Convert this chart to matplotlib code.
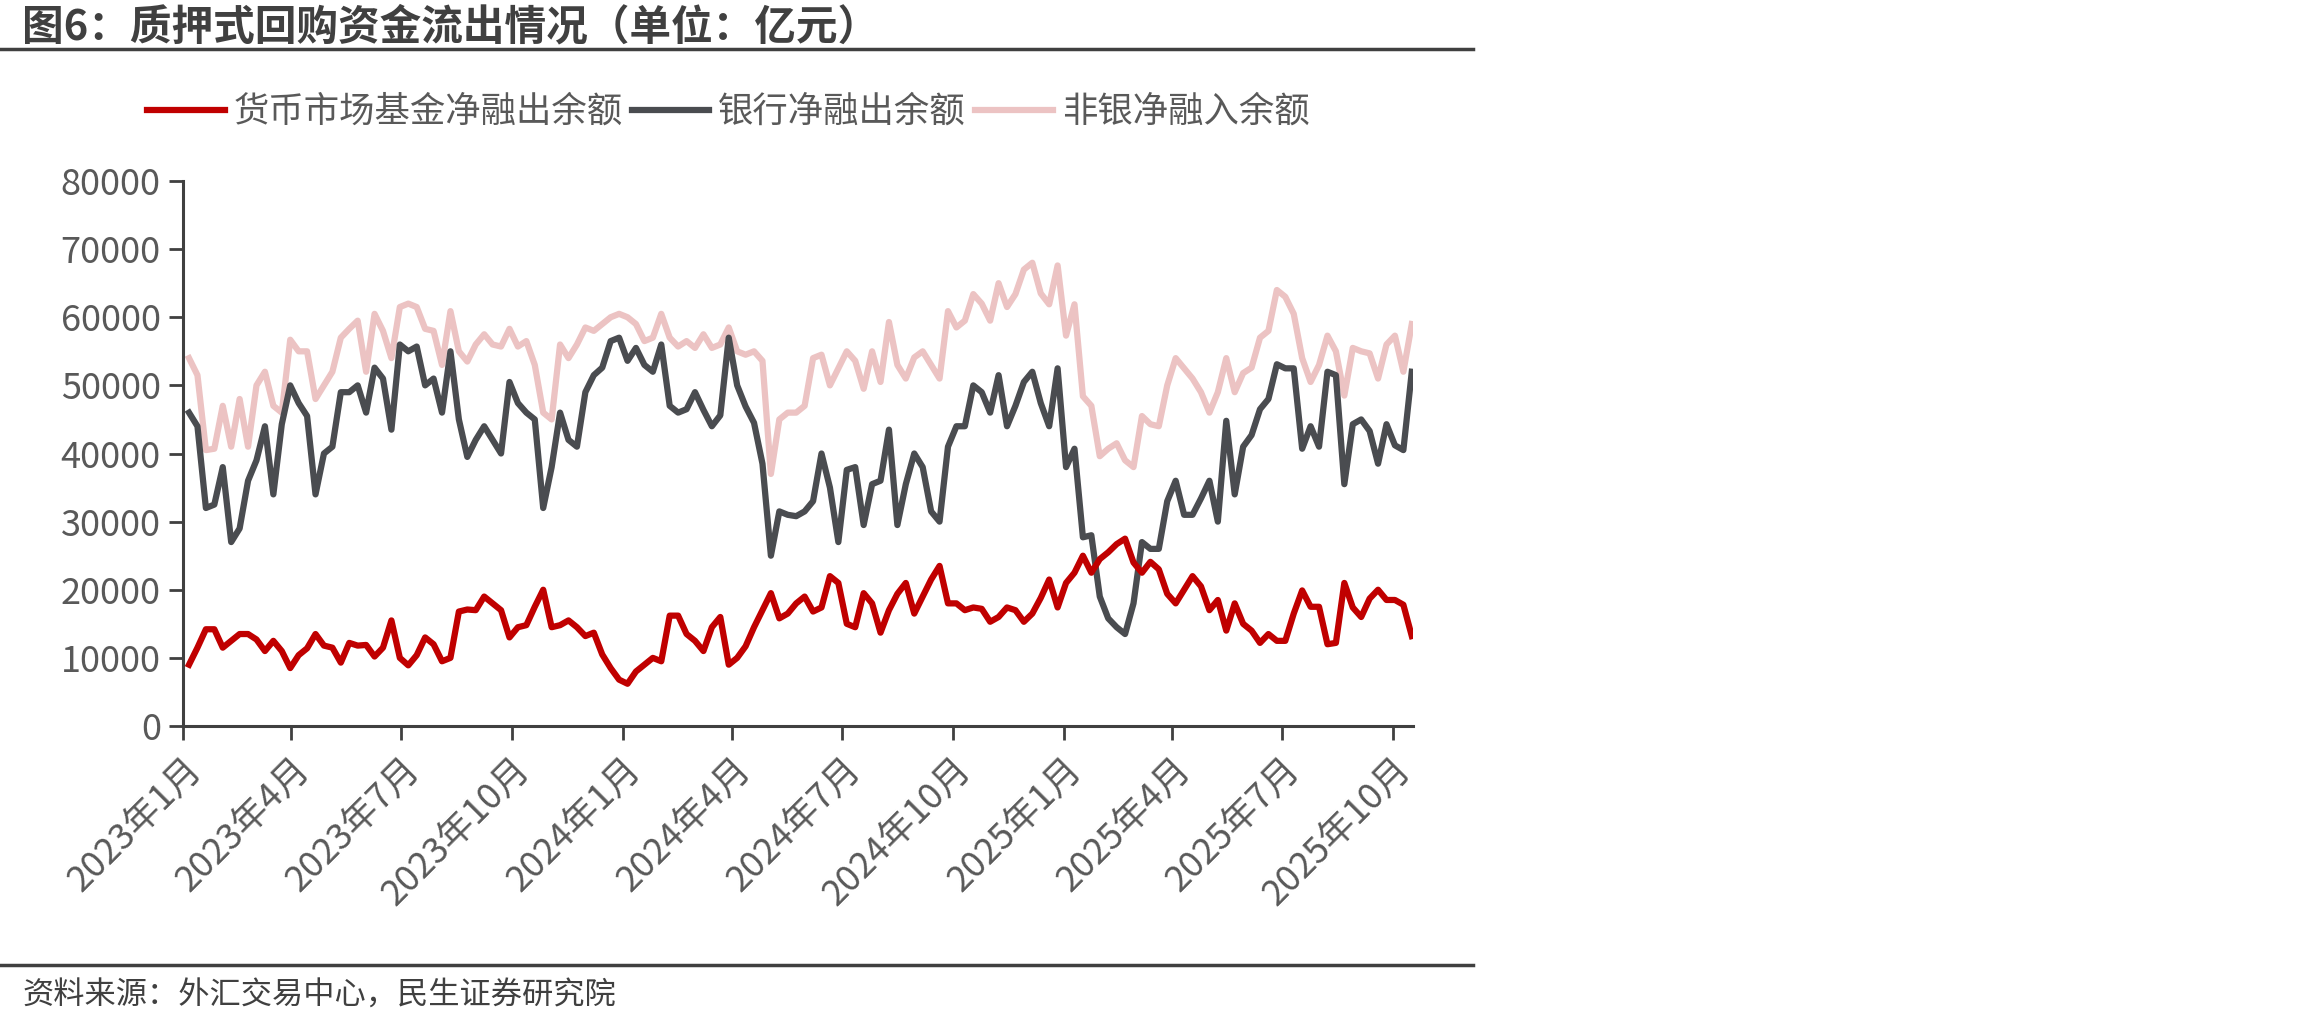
import pandas as pd
import matplotlib.pyplot as plt
from matplotlib.lines import Line2D

plt.rcParams['font.family'] = ['Noto Sans CJK SC', 'DejaVu Sans']

# weekly readings (Fridays) starting 2023-01-06, unit: 亿元
dates = pd.date_range('2023-01-06', periods=146, freq='7D')

mmf_out = [
    9000, 11500, 14200, 14200, 11500, 12500, 13500, 13500, 12700, 11000,
    12500, 11000, 8500, 10400, 11400, 13500, 11800, 11500, 9300, 12200,
    11800, 11900, 10200, 11500, 15500, 10000, 8900, 10400, 13000, 12000,
    9500, 10000, 16800, 17100, 17000, 19000,
    18000, 17000, 13000, 14500, 14800, 17500, 20000, 14500, 14800, 15500,
    14500, 13200, 13700, 10500, 8500, 6800, 6200, 8000, 9000, 10000,
    9500, 16200, 16200, 13500, 12500, 11000, 14500, 16000, 9000, 10000,
    11700, 14500, 17000, 19500, 15800, 16500, 18000,
    19000, 16800, 17400, 22000, 21000, 15000, 14500, 19500, 18000, 13700,
    17000, 19400, 21000, 16500, 19000, 21500, 23500, 18000, 18000, 17000,
    17400, 17200, 15300, 16000, 17400, 17000, 15300, 16500, 18800, 21500,
    17400, 21000, 22500, 25000, 22500, 24500, 25500,
    26700, 27500, 24000, 22500, 24100, 23000, 19400, 18000, 20000, 22000,
    20500, 17000, 18500, 14000, 18000, 15000, 14000, 12200, 13500, 12500,
    12500, 16500, 19900, 17500, 17500, 12000, 12200, 21000, 17400, 16000,
    18700, 20000, 18500, 18500, 17800, 13200,
]

bank_out = [
    46000, 44000, 32000, 32500, 38000, 27000, 29000, 36000, 39000, 44000,
    34000, 44300, 50000, 47400, 45500, 34000, 40000, 41000, 49000, 49000,
    50000, 46000, 52600, 51000, 43500, 56000, 55000, 55700, 50000, 51000,
    46000, 55000, 45000, 39500, 42000, 44000,
    42000, 40000, 50500, 47400, 46000, 45000, 32000, 38000, 46000, 42000,
    41000, 49000, 51500, 52600, 56500, 57000, 53600, 55500, 53000, 52000,
    56000, 47000, 46000, 46500, 49000, 46400, 44000, 45600, 57000, 50000,
    46900, 44500, 38500, 25000, 31500, 31000, 30800,
    31500, 33000, 40000, 35000, 27000, 37600, 38000, 29500, 35500, 36000,
    43500, 29500, 35500, 40000, 38000, 31500, 30000, 41000, 44000, 44000,
    50000, 49000, 46000, 51500, 44000, 47000, 50500, 52000, 47400, 44000,
    52500, 38000, 40700, 27700, 28000, 19000, 15800,
    14500, 13500, 18000, 27000, 26000, 26000, 33000, 36000, 31000, 31000,
    33400, 36000, 30000, 44800, 34000, 41000, 42700, 46500, 48000, 53100,
    52500, 52500, 40700, 44000, 41000, 52000, 51500, 35500, 44300, 45000,
    43300, 38500, 44300, 41200, 40500, 52000,
]

nonbank_in = [
    54000, 51500, 40500, 40700, 47000, 41000, 48000, 41000, 50000, 52000,
    47000, 46000, 56700, 55000, 55000, 48000, 50000, 52000, 57000, 58300,
    59500, 52000, 60500, 58000, 54000, 61500, 62000, 61500, 58300, 58000,
    53000, 60900, 55000, 53500, 56000, 57500,
    56000, 55700, 58300, 55700, 56500, 53000, 46000, 45000, 56000, 54000,
    56000, 58500, 58000, 59000, 60000, 60500, 60000, 59000, 56500, 57000,
    60500, 57000, 55700, 56500, 55500, 57500, 55500, 56000, 58500, 55000,
    54500, 55000, 53600, 37000, 45000, 46000, 46000,
    47000, 54000, 54500, 50000, 52500, 55000, 53600, 49500, 55000, 50500,
    59300, 53000, 51000, 54100, 55000, 53000, 51000, 60900, 58500, 59500,
    63400, 62000, 59500, 65000, 61500, 63400, 67000, 68000, 63500, 61900,
    67600, 57300, 61900, 48400, 47000, 39600, 40700,
    41500, 39000, 38000, 45500, 44300, 44000, 50000, 54000, 52500, 51000,
    49000, 46000, 49000, 54000, 49000, 51800, 52600, 57000, 58000, 64000,
    63000, 60500, 54000, 50500, 53000, 57300, 55000, 48500, 55500, 55000,
    54700, 51000, 56000, 57300, 52000, 59000,
]

labels = ['货币市场基金净融出余额', '银行净融出余额', '非银净融入余额']
colors = ['#c00000', '#4a4c50', '#ecc3c3']
tick_dates = pd.date_range('2023-01-01', '2025-10-01', freq='3MS')
tick_labels = [f'{d.year}年{d.month}月' for d in tick_dates]

axis_color = '#404040'
text_color = '#595959'

fig = plt.figure(figsize=(23.1, 10.25), dpi=100)
ax = fig.add_axes([183 / 2310, 1 - 726 / 1025, (1413 - 183) / 2310, (726 - 181) / 1025])

# pink first, then black, red on top
ax.plot(dates, nonbank_in, color=colors[2], lw=4.5, zorder=2)
ax.plot(dates, bank_out, color=colors[1], lw=4.5, zorder=3)
ax.plot(dates, mmf_out, color=colors[0], lw=4.5, zorder=4)

ax.set_xlim(pd.Timestamp('2023-01-01'), pd.Timestamp('2025-10-18'))
ax.set_ylim(0, 80000)
ax.set_yticks(range(0, 80001, 10000))
ax.set_xticks(tick_dates)
ax.set_xticklabels(tick_labels, rotation=45, ha='right', rotation_mode='anchor')

for s in ['top', 'right']:
    ax.spines[s].set_visible(False)
for s in ['left', 'bottom']:
    ax.spines[s].set_color(axis_color)
    ax.spines[s].set_linewidth(2.2)
ax.tick_params(axis='both', colors=axis_color, width=2, length=10, labelsize=26,
               labelcolor=text_color)
ax.tick_params(axis='y', pad=6)
ax.tick_params(axis='x', pad=8)

handles = [Line2D([0], [0], color=c, lw=4.5) for c in colors]
fig.legend(handles, labels, loc='center', bbox_to_anchor=(728 / 2310, 1 - 112 / 1025),
           ncol=3, frameon=False, fontsize=25.5, handlelength=2.2, handletextpad=0.25,
           columnspacing=0.25, labelcolor=text_color)

# title, rules and source
fig.text(22 / 2310, 1 - 27 / 1025, '图6：质押式回购资金流出情况（单位：亿元）', fontsize=30,
         fontweight='bold', color=axis_color, va='center', ha='left')
fig.add_artist(Line2D([0, 1473 / 2310], [1 - 49 / 1025] * 2, color=axis_color, lw=2.5))
fig.add_artist(Line2D([0, 1473 / 2310], [1 - 965 / 1025] * 2, color=axis_color, lw=2.5))
fig.text(22 / 2310, 1 - 996 / 1025, '资料来源：外汇交易中心，民生证券研究院', fontsize=22.5,
         color=axis_color, va='center', ha='left')

fig.savefig('out.png', dpi=100)
